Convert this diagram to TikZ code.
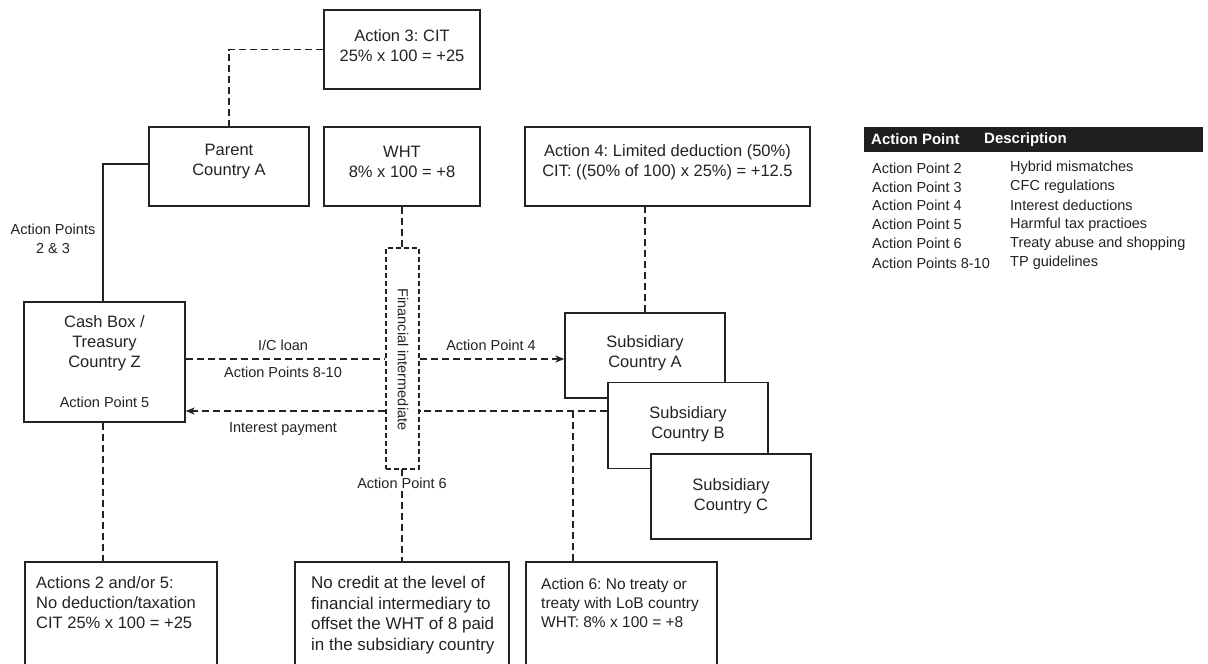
\documentclass[tikz,border=0pt]{standalone}
\usepackage{fontspec}
\setmainfont{Liberation Sans}
\usetikzlibrary{arrows.meta}
\definecolor{ink}{RGB}{35,35,35}
\tikzset{
  box/.style={draw=ink, line width=1.3pt, fill=white, inner sep=0pt},
  dline/.style={draw=ink, line width=1.35pt, dash pattern=on 7pt off 4pt},
  sline/.style={draw=ink, line width=1.3pt},
  big/.style={font=\fontsize{16.5}{20}\selectfont, text=ink, inner sep=0pt},
  small/.style={font=\fontsize{14.5}{19}\selectfont, text=ink, inner sep=0pt},
  arr/.style={-{Stealth[length=9pt,width=7pt,inset=2.5pt]}},
}
\begin{document}
\frenchspacing
\begin{tikzpicture}[x=1pt,y=-1pt]
\clip (0,0) rectangle (1208,664);
\fill[white] (0,0) rectangle (1208,664);

% top boxes
\node[box, minimum width=156pt, minimum height=79pt] (a3) at (402,49.5) {};
\node[big, align=center] (a3t) at (402,46) {Action 3: CIT\\25\% x 100 = +25};
\node[box, minimum width=160pt, minimum height=79pt] (parent) at (229,166.5) {};
\node[big, align=center] (parentt) at (229,162) {Parent\\Country A};
\node[box, minimum width=156pt, minimum height=79pt] (wht) at (402,166.5) {};
\node[big, align=center] (whtt) at (402,162) {WHT\\8\% x 100 = +8};
\node[box, minimum width=285pt, minimum height=79pt] (a4) at (667.5,166.5) {};
\node[big, align=center] (a4t) at (667.5,162) {Action 4: Limited deduction (50\%)\\CIT: ((50\% of 100) x 25\%) = +12.5};

% cash box
\node[box, minimum width=161pt, minimum height=120pt] (cash) at (104.5,362) {};
\node[big, align=center] (casht) at (104.5,343) {Cash Box /\\Treasury\\Country Z};
\node[small] (cashap) at (104.5,402) {Action Point 5};

% financial intermediate
\node[draw=ink, line width=1.3pt, dash pattern=on 5pt off 3pt, minimum width=33pt, minimum height=221pt, inner sep=0pt] (fin) at (402.5,358.5) {};
\node[small, rotate=-90] (fint) at (403,359.5) {Financial intermediate};

% subsidiaries
\node[box, minimum width=160pt, minimum height=85pt] (subA) at (645,355.5) {};
\node[big, align=center] (subAt) at (645,353.5) {Subsidiary\\Country A};
\node[box, minimum width=160pt, minimum height=86pt] (subB) at (688,425.5) {};
\node[big, align=center] (subBt) at (688,424.5) {Subsidiary\\Country B};
\node[box, minimum width=160pt, minimum height=85pt] (subC) at (731,496.5) {};
\node[big, align=center] (subCt) at (731,496) {Subsidiary\\Country C};

% bottom boxes
\node[box, minimum width=192pt, minimum height=130pt] (b1) at (121,627) {};
\node[big, align=left, anchor=north west] (b1t) at (36,576) {Actions 2 and/or 5:\\No deduction/taxation\\CIT 25\% x 100 = +25};
\node[box, minimum width=214pt, minimum height=130pt] (b2) at (402,627) {};
\node[font=\fontsize{17}{20.6}\selectfont, text=ink, inner sep=0pt, align=left, anchor=north west] (b2t) at (311,576) {No credit at the level of\\financial intermediary to\\offset the WHT of 8 paid\\in the subsidiary country};
\node[box, minimum width=191pt, minimum height=130pt] (b3) at (621.5,627) {};
\node[font=\fontsize{15.5}{19}\selectfont, text=ink, inner sep=0pt, align=left, anchor=north west] (b3t) at (541,578) {Action 6: No treaty or\\treaty with LoB country\\WHT: 8\% x 100 = +8};

% connectors
\draw[dline] (a3.west) -| (parent.north);
\coordinate (pc) at (103,164);
\draw[sline] (parent.west |- pc) -- (pc) -- (pc |- cash.north);
\node[small, align=center] (ap23) at (53,238.5) {Action Points\\2 \& 3};
\draw[dline] (wht.south) -- (wht.south |- fin.north);
\draw[dline] (subA.north) -- (subA.north |- a4.south);

\coordinate (yl) at (0,359);
\coordinate (yi) at (0,411);
\draw[dline] (cash.east |- yl) -- (fin.west |- yl);
\draw[dline, arr] (fin.east |- yl) -- (subA.west |- yl);
\draw[dline] (subB.west |- yi) -- (fin.east |- yi);
\draw[dline, arr] (fin.west |- yi) -- (cash.east |- yi);
\coordinate (vd) at (573,411);
\draw[dline] (vd) -- (vd |- b3.north);

\node[small] (icl) at (283,345) {I/C loan};
\node[small] (ap810) at (283,372) {Action Points 8-10};
\node[small] (ap4) at (491,345) {Action Point 4};
\node[small] (ip) at (283,429) {Interest payment};

\draw[dline] (cash.south -| 103,0) -- (b1.north -| 103,0);
\draw[dline] (402,469) -- (402,561);
\node[small, fill=white, inner ysep=2pt, inner xsep=1pt] (ap6) at (402,483) {Action Point 6};

% legend
\node[fill=black!88, minimum width=339pt, minimum height=25pt, inner sep=0pt] (lh) at (1033.5,139.5) {};
\node[small, text=white, font=\fontsize{15}{19}\bfseries, anchor=west] (lh1) at (871,139.5) {Action Point};
\node[small, text=white, font=\fontsize{15}{19}\bfseries, anchor=west] (lh2) at (984,139.5) {Description};
\node[small, anchor=west] (l1a) at (872,168) {Action Point 2};
\node[small, anchor=west] (l1b) at (1010,168) {Hybrid mismatches};
\node[small, anchor=west] (l2a) at (872,187) {Action Point 3};
\node[small, anchor=west] (l2b) at (1010,187) {CFC regulations};
\node[small, anchor=west] (l3a) at (872,205.5) {Action Point 4};
\node[small, anchor=west] (l3b) at (1010,205.5) {Interest deductions};
\node[small, anchor=west] (l4a) at (872,224.5) {Action Point 5};
\node[small, anchor=west] (l4b) at (1010,224.5) {Harmful tax practioes};
\node[small, anchor=west] (l5a) at (872,243.5) {Action Point 6};
\node[small, anchor=west] (l5b) at (1010,243.5) {Treaty abuse and shopping};
\node[small, anchor=west] (l6a) at (872,263) {Action Points 8-10};
\node[small, anchor=west] (l6b) at (1010,263) {TP guidelines};
\end{tikzpicture}
\end{document}
